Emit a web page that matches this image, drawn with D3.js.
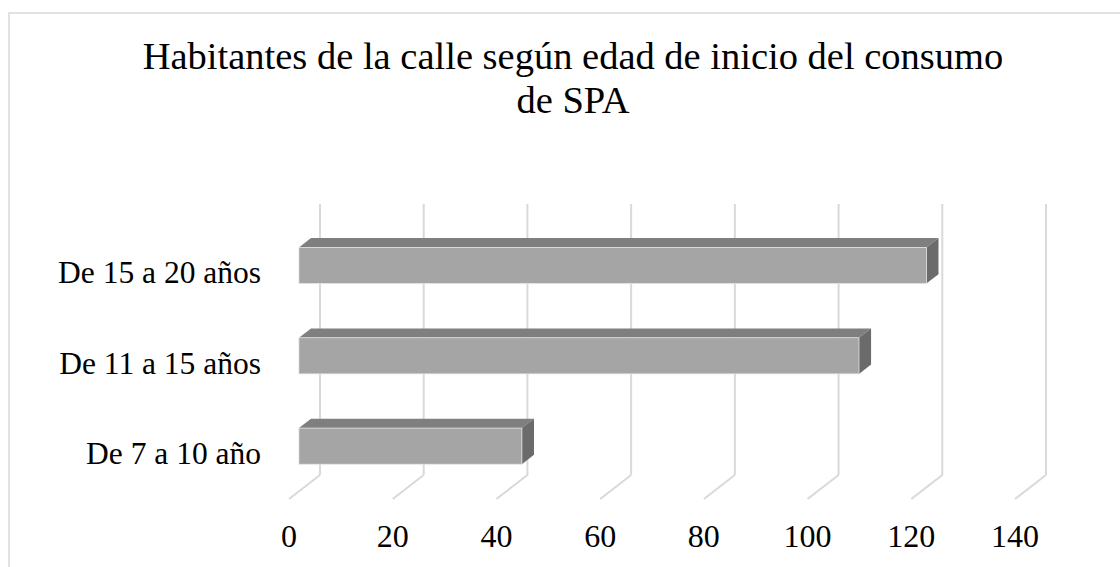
<!doctype html>
<html lang="es">
<head>
  <meta charset="utf-8">
  <title>Habitantes de la calle según edad de inicio del consumo de SPA</title>
  <script src="https://cdn.jsdelivr.net/npm/d3@7"></script>
  <style>
    body { margin:0; background:#fff; }
    text { font-family:"Liberation Serif","Times New Roman",serif; fill:#000; }
  </style>
</head>
<body>
<div id="chart"></div>
<script>
  // data
  var categories = ["De 15 a 20 años", "De 11 a 15 años", "De 7 a 10 año"];
  var values = [121, 108, 43];
  var ticks = [0, 20, 40, 60, 80, 100, 120, 140];
  var titleLines = ["Habitantes de la calle según edad de inicio del consumo", "de SPA"];

  var width = 1120, height = 567;

  var svg = d3.select("#chart").append("svg")
    .attr("width", width)
    .attr("height", height);

  // chart frame (runs off the right / bottom edge in the original)
  svg.append("rect")
    .attr("x", 9).attr("y", 13)
    .attr("width", 1130).attr("height", 600)
    .attr("fill", "#fff")
    .attr("stroke", "#d9d9d9")
    .attr("stroke-width", 1.5);

  svg.selectAll(".title")
    .data(titleLines)
    .enter().append("text")
    .attr("class", "title")
    .attr("x", 573)
    .attr("y", function(d, i) { return 69 + i * 44; })
    .attr("text-anchor", "middle")
    .style("font-size", "38.5px")
    .text(function(d) { return d; });

  // back wall plane, depth goes toward the viewer by (dx, dy)
  var x = d3.scaleLinear().domain([0, 140]).range([320, 1046]);
  var y = d3.scaleBand().domain(categories).range([204, 475])
    .paddingInner(0.6).paddingOuter(0.3);
  var dx = -31, dy = 24;
  var z0 = 0.29, z1 = 0.68;   // bar back/front depth fraction

  var grid = svg.append("g");
  grid.selectAll(".v")
    .data(ticks)
    .enter().append("line")
    .attr("x1", function(d) { return x(d); })
    .attr("x2", function(d) { return x(d); })
    .attr("y1", 204).attr("y2", 475)
    .attr("stroke", "#d9d9d9").attr("stroke-width", 2);
  grid.selectAll(".f")
    .data(ticks)
    .enter().append("line")
    .attr("x1", function(d) { return x(d); })
    .attr("x2", function(d) { return x(d) + dx; })
    .attr("y1", 475).attr("y2", 475 + dy)
    .attr("stroke", "#d9d9d9").attr("stroke-width", 2);

  svg.selectAll(".tick")
    .data(ticks)
    .enter().append("text")
    .attr("x", function(d) { return x(d) + dx; })
    .attr("y", 547)
    .attr("text-anchor", "middle")
    .style("font-size", "32px")
    .text(function(d) { return d; });

  svg.selectAll(".cat")
    .data(categories)
    .enter().append("text")
    .attr("x", 261)
    .attr("y", function(d) { return y(d) + y.bandwidth() / 2 + dy + 10; })
    .attr("text-anchor", "end")
    .style("font-size", "31.5px")
    .text(function(d) { return d; });

  function pt(px, py, z) { return [px + dx * z, py + dy * z]; }
  function poly(pts) { return "M" + pts.map(function(p) { return p.join(","); }).join("L") + "Z"; }

  var bars = svg.selectAll(".bar")
    .data(values)
    .enter().append("g");

  bars.each(function(v, i) {
    var g = d3.select(this);
    var xa = x(0), xb = x(v);
    var yt = y(categories[i]), yb = yt + y.bandwidth();
    // top face
    g.append("path")
      .attr("d", poly([pt(xa, yt, z1), pt(xa, yt, z0), pt(xb, yt, z0), pt(xb, yt, z1)]))
      .attr("fill", "#7f7f7f");
    // right end
    g.append("path")
      .attr("d", poly([pt(xb, yt, z1), pt(xb, yt, z0), pt(xb, yb, z0), pt(xb, yb, z1)]))
      .attr("fill", "#6b6b6b");
    // front face
    var a = pt(xa, yt, z1), b = pt(xb, yb, z1);
    g.append("rect")
      .attr("x", a[0]).attr("y", a[1])
      .attr("width", b[0] - a[0]).attr("height", b[1] - a[1])
      .attr("fill", "#a5a5a5")
      .attr("stroke", "#e6e6e6").attr("stroke-width", 0.75);
  });
</script>
</body>
</html>
